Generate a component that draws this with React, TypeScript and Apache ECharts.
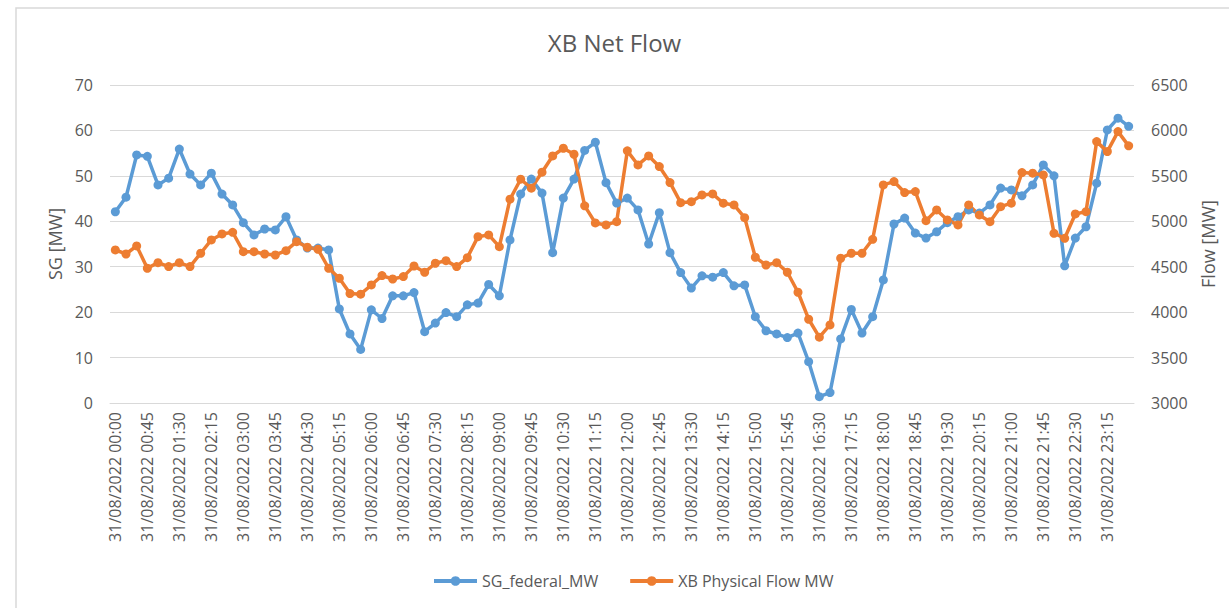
import React, { useEffect, useRef } from "react";
import * as echarts from "echarts";

const sgFederal: number[] = [
  42.1, 45.3, 54.6, 54.3, 48.0, 49.5, 55.9, 50.4, 48.0, 50.6, 46.0, 43.6,
  39.7, 37.0, 38.3, 38.1, 41.0, 35.9, 34.1, 34.1, 33.7, 20.7, 15.2, 11.8,
  20.5, 18.6, 23.6, 23.6, 24.3, 15.7, 17.6, 19.9, 19.0, 21.6, 22.0, 26.1,
  23.6, 35.9, 46.0, 49.3, 46.2, 33.1, 45.1, 49.3, 55.6, 57.4, 48.5, 44.0,
  45.1, 42.5, 35.0, 41.9, 33.1, 28.7, 25.3, 28.0, 27.7, 28.7, 25.8, 26.0,
  19.0, 15.9, 15.2, 14.4, 15.4, 9.1, 1.4, 2.3, 14.1, 20.6, 15.4, 19.0,
  27.1, 39.4, 40.7, 37.4, 36.3, 37.7, 39.7, 41.0, 42.5, 41.8, 43.6, 47.3,
  46.9, 45.6, 48.0, 52.4, 50.0, 30.2, 36.3, 38.8, 48.4, 60.1, 62.7, 60.9,
];

const xbPhysicalFlow: number[] = [
  4685, 4640, 4729, 4483, 4545, 4501, 4545, 4501, 4648, 4795, 4861, 4879,
  4666, 4666, 4640, 4629, 4677, 4776, 4714, 4692, 4483, 4373, 4204, 4198,
  4299, 4402, 4365, 4391, 4508, 4439, 4538, 4567, 4501, 4600, 4831, 4850,
  4721, 5243, 5463, 5364, 5540, 5719, 5804, 5738, 5170, 4982, 4960, 4996,
  5775, 5620, 5719, 5602, 5426, 5205, 5216, 5290, 5301, 5199, 5180, 5040,
  4604, 4519, 4545, 4439, 4219, 3922, 3725, 3859, 4593, 4648, 4648, 4802,
  5400, 5437, 5316, 5327, 5007, 5125, 5015, 4960, 5180, 5070, 4996, 5161,
  5199, 5536, 5529, 5510, 4868, 4813, 5081, 5106, 5877, 5767, 5987, 5830,
];

const pad = (n: number) => (n < 10 ? "0" + n : String(n));
const categories: string[] = [];
for (let h = 0; h < 24; h++) {
  for (let m = 0; m < 60; m += 15) {
    categories.push(`31/08/2022 ${pad(h)}:${pad(m)}`);
  }
}

const leftTicks = { min: 0, max: 70, interval: 10 };
const rightTicks = { min: 3000, max: 6500, interval: 500 };

const textColor = "#595959";
const gridColor = "#d9d9d9";
const font = "'Open Sans', 'Liberation Sans', sans-serif";

export default function App() {
  const ref = useRef<HTMLDivElement>(null);
  useEffect(() => {
    if (!ref.current) return;
    const chart = echarts.init(ref.current, undefined, { renderer: "svg" });
    chart.setOption({
      animation: false,
      backgroundColor: "#ffffff",
      textStyle: { fontFamily: font },
      graphic: [
        {
          type: "rect",
          shape: { x: 16, y: 8, width: 1240, height: 640 },
          style: { fill: "none", stroke: "#d9d9d9", lineWidth: 1.5 },
          silent: true,
        },
      ],
      title: {
        text: "XB Net Flow",
        left: "center",
        top: 25,
        textStyle: { color: textColor, fontSize: 24, fontWeight: "normal", fontFamily: font },
      },
      legend: {
        bottom: 14,
        left: 427,
        itemWidth: 43,
        itemHeight: 12,
        itemGap: 30,
        lineStyle: { width: 4 },
        textStyle: { color: textColor, fontSize: 16, fontFamily: font },
        data: ["SG_federal_MW", "XB Physical Flow MW"],
      },
      grid: { left: 110, right: 95, top: 85, bottom: 205 },
      xAxis: {
        type: "category",
        data: categories,
        boundaryGap: true,
        axisLine: { lineStyle: { color: gridColor, width: 1 } },
        axisTick: { show: false },
        axisLabel: {
          interval: 2,
          rotate: 90,
          color: textColor,
          fontSize: 16,
          margin: 9,
          fontFamily: font,
        },
      },
      yAxis: [
        {
          type: "value",
          ...leftTicks,
          name: "SG [MW]",
          nameLocation: "middle",
          nameGap: 46,
          nameTextStyle: { color: textColor, fontSize: 18, fontFamily: font },
          axisLine: { show: false },
          axisTick: { show: false },
          splitLine: { lineStyle: { color: gridColor, width: 1 } },
          axisLabel: { color: textColor, fontSize: 16, margin: 17, fontFamily: font },
        },
        {
          type: "value",
          ...rightTicks,
          name: "Flow [MW]",
          nameLocation: "middle",
          nameGap: 65,
          nameRotate: 90,
          nameTextStyle: { color: textColor, fontSize: 18, fontFamily: font },
          axisLine: { show: false },
          axisTick: { show: false },
          splitLine: { show: false },
          axisLabel: {
            color: textColor,
            fontSize: 16,
            margin: 17,
            fontFamily: font,
            formatter: (v: number) => String(v),
          },
        },
      ],
      series: [
        {
          name: "SG_federal_MW",
          type: "line",
          yAxisIndex: 0,
          data: sgFederal,
          symbol: "circle",
          symbolSize: 9,
          showAllSymbol: true,
          itemStyle: { color: "#5B9BD5" },
          lineStyle: { color: "#5B9BD5", width: 3.5 },
        },
        {
          name: "XB Physical Flow MW",
          type: "line",
          yAxisIndex: 1,
          data: xbPhysicalFlow,
          symbol: "circle",
          symbolSize: 9,
          showAllSymbol: true,
          itemStyle: { color: "#ED7D31" },
          lineStyle: { color: "#ED7D31", width: 3.5 },
        },
      ],
    });
    return () => chart.dispose();
  }, []);
  return (
    <div
      ref={ref}
      style={{ position: "absolute", left: 0, top: 0, width: 1229, height: 608 }}
    />
  );
}
